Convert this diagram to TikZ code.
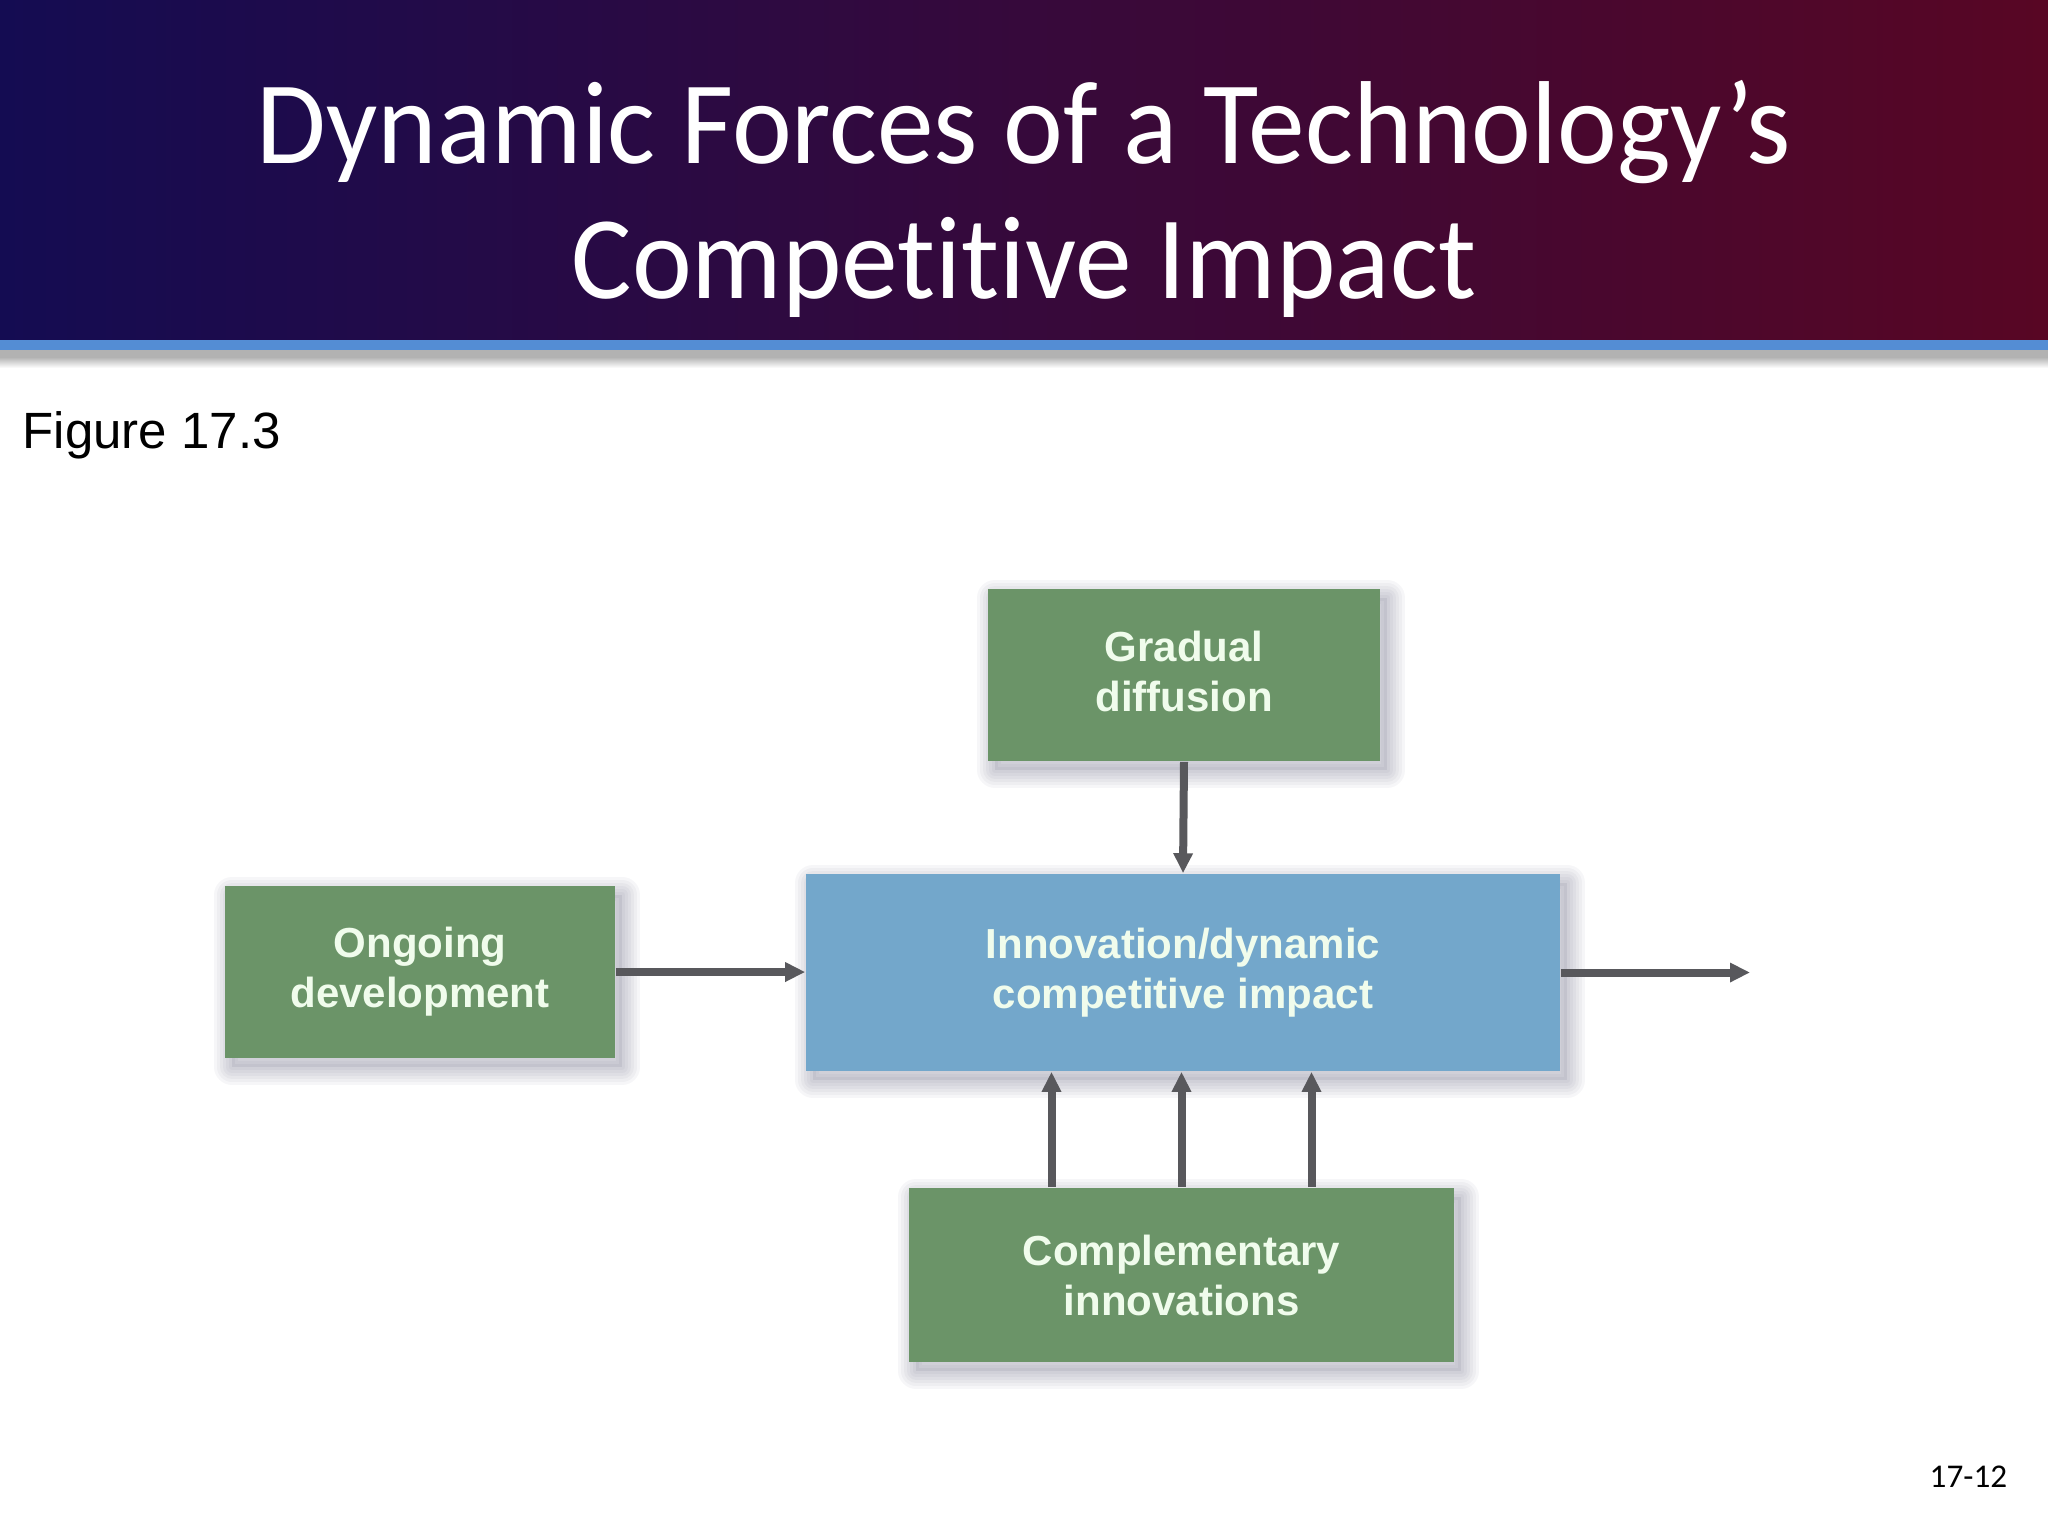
\documentclass[tikz,border=0pt]{standalone}
\usepackage{fontspec}
\setmainfont{Liberation Sans}
\newfontfamily\titlefont[Ligatures=NoCommon]{Carlito}
\usetikzlibrary{arrows.meta}
\definecolor{boxgreen}{RGB}{107,148,104}
\definecolor{boxblue}{RGB}{115,167,203}
\definecolor{boxtext}{RGB}{240,252,236}
\definecolor{arrowgray}{RGB}{88,88,92}
\definecolor{hdrleft}{RGB}{20,12,82}
\definecolor{hdrmid}{RGB}{55,10,62}
\definecolor{hdrright}{RGB}{88,6,36}
\definecolor{stripe}{RGB}{84,141,212}
\definecolor{shadowcol}{RGB}{50,50,85}
\tikzset{
  shlayer/.style={preaction={draw=shadowcol, draw opacity=0.04, line width=#1, line join=round, transform canvas={shift={(1.8pt,-2.2pt)}}}},
  softshadow/.style={shlayer=9pt, shlayer=7.5pt, shlayer=6pt, shlayer=4.5pt, shlayer=3pt, shlayer=1.5pt,
    preaction={fill=shadowcol, fill opacity=0.08, transform canvas={shift={(1.8pt,-2.2pt)}}}},
  fbox/.style={inner sep=0pt, align=center, text=boxtext, softshadow,
    font=\bfseries\fontsize{10.5}{12.5}\selectfont},
  greenbox/.style={fbox, fill=boxgreen},
  bluebox/.style={fbox, fill=boxblue},
  arr/.style={draw=arrowgray, line width=2pt, -{Triangle[length=5pt,width=4.6pt]}},
  titletext/.style={anchor=base, text=white, inner sep=0pt, font=\titlefont\fontsize{29.5}{34}\selectfont},
}
\begin{document}
\begin{tikzpicture}[x=0.25pt,y=-0.25pt]
\useasboundingbox (0,0) rectangle (2048,1536);
\fill[white] (0,0) rectangle (2048,1536);
% header
\shade[left color=hdrleft, middle color=hdrmid, right color=hdrright] (0,0) rectangle (2048,340);
\fill[stripe] (0,340) rectangle (2048,350);
\fill[black!30] (0,350) rectangle (2048,357);
\shade[top color=black!30, bottom color=white] (0,357) rectangle (2048,368);
\node[titletext] (title1) at (1024,163) {\scalebox{0.96}[1]{Dynamic Forces of a Technology’s}};
\node[titletext] (title2) at (1024,298) {\scalebox{0.96}[1]{Competitive Impact}};
% figure label
\node[anchor=base west, inner sep=0pt, font=\fontsize{12.75}{15}\selectfont] (figlabel) at (22,448) {Figure 17.3};
% boxes
\node[greenbox, minimum width=98pt, minimum height=43pt, text depth=2pt] (grad) at (1184,675) {Gradual\\diffusion};
\node[bluebox, minimum width=188.5pt, minimum height=49.25pt] (impact) at (1183,972.5) {Innovation/dynamic\\competitive impact};
\node[greenbox, minimum width=97.5pt, minimum height=43pt] (ongoing) at (420,972) {Ongoing\\development};
\node[greenbox, minimum width=136.25pt, minimum height=43.5pt] (comp) at (1181.5,1275) {Complementary\\innovations};
\coordinate (out) at (1750,972.5);
% connectors
\draw[arr] (grad.south) -- (impact.north);
\draw[arr] (ongoing.east) -- (ongoing.east -| impact.west);
\draw[arr] (impact.east) -- (out);
\draw[arr] ([xshift=-32.5pt]comp.north) -- ([xshift=-32.5pt]comp.north |- impact.south);
\draw[arr] (comp.north) -- (comp.north |- impact.south);
\draw[arr] ([xshift=32.5pt]comp.north) -- ([xshift=32.5pt]comp.north |- impact.south);
% page number
\node[anchor=base east, inner sep=0pt, font=\titlefont\fontsize{8.3}{10}\selectfont] (pagenum) at (2008,1487) {17-12};
\end{tikzpicture}
\end{document}
